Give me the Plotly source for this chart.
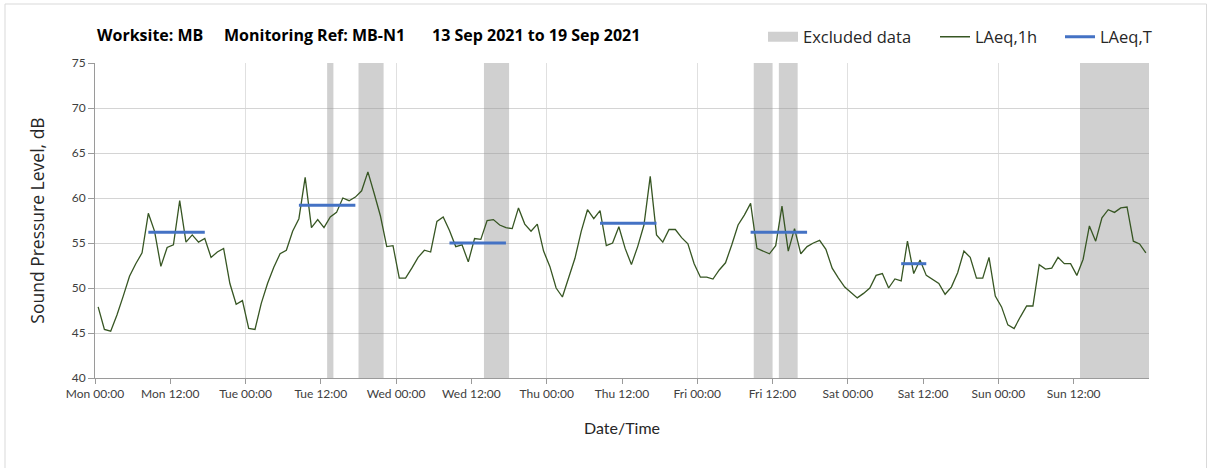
import pandas as pd
import plotly.graph_objects as go

# ---------------- data ----------------
start_time = "2021-09-13 00:30"
laeq_1h = [
    47.9, 45.4, 45.2, 47.0, 49.1, 51.3, 52.7, 53.9, 58.3, 56.3,
    52.4, 54.5, 54.8, 59.7, 55.1, 55.9, 55.1, 55.5, 53.4, 54.0,
    54.4, 50.5, 48.2, 48.6, 45.5, 45.4, 48.3, 50.5, 52.3, 53.8,
    54.2, 56.3, 57.7, 62.3, 56.7, 57.6, 56.7, 57.9, 58.4, 60.0,
    59.7, 60.1, 60.8, 62.9, 60.5, 58.0, 54.6, 54.7, 51.1, 51.1,
    52.2, 53.4, 54.2, 54.0, 57.4, 57.9, 56.4, 54.6, 54.8, 52.9,
    55.5, 55.4, 57.5, 57.6, 57.0, 56.7, 56.6, 58.9, 57.1, 56.3,
    57.1, 54.1, 52.4, 50.0, 49.0, 51.1, 53.3, 56.3, 58.7, 57.7,
    58.6, 54.7, 55.0, 56.8, 54.4, 52.6, 54.6, 57.0, 62.4, 55.9,
    55.1, 56.5, 56.5, 55.6, 54.9, 52.7, 51.2, 51.2, 51.0, 52.0,
    52.8, 54.8, 57.0, 58.1, 59.4, 54.4, 54.1, 53.8, 54.7, 59.1,
    54.1, 56.6, 53.8, 54.6, 55.0, 55.3, 54.3, 52.2, 51.1, 50.1,
    49.5, 48.9, 49.4, 50.0, 51.4, 51.6, 50.0, 51.0, 50.8, 55.2,
    51.6, 53.1, 51.4, 50.9, 50.5, 49.3, 50.1, 51.7, 54.1, 53.4,
    51.1, 51.1, 53.4, 49.1, 47.9, 45.9, 45.5, 46.8, 48.0, 48.0,
    52.6, 52.1, 52.2, 53.4, 52.7, 52.7, 51.4, 53.2, 56.9, 55.2,
    57.8, 58.7, 58.4, 58.9, 59.0, 55.2, 54.9, 53.9,
]

laeq_t_start = ["2021-09-13 08:30", "2021-09-14 08:30", "2021-09-15 08:30",
                "2021-09-16 08:30", "2021-09-17 08:30", "2021-09-18 08:30"]
laeq_t_end = ["2021-09-13 17:30", "2021-09-14 17:30", "2021-09-15 17:30",
              "2021-09-16 17:30", "2021-09-17 17:30", "2021-09-18 12:30"]
laeq_t_value = [56.2, 59.2, 55.0, 57.2, 56.2, 52.7]

excluded_start = ["2021-09-14 13:00", "2021-09-14 18:00", "2021-09-15 14:00",
                  "2021-09-17 09:00", "2021-09-17 13:00", "2021-09-19 13:00"]
excluded_end = ["2021-09-14 14:00", "2021-09-14 22:00", "2021-09-15 18:00",
                "2021-09-17 12:00", "2021-09-17 16:00", "2021-09-20 00:00"]
y_min, y_max = 40, 75

tick_times = pd.date_range("2021-09-13 00:00", periods=14, freq="12h")
tick_labels = ["Mon 00:00", "Mon 12:00", "Tue 00:00", "Tue 12:00",
               "Wed 00:00", "Wed 12:00", "Thu 00:00", "Thu 12:00",
               "Fri 00:00", "Fri 12:00", "Sat 00:00", "Sat 12:00",
               "Sun 00:00", "Sun 12:00"]

title_parts = ["Worksite: MB", "Monitoring Ref: MB-N1", "13 Sep 2021 to 19 Sep 2021"]

# ---------------- figure ----------------
FONT = "Lato"
FONT_W = "Open Sans"
times = pd.date_range(start_time, periods=len(laeq_1h), freq="h")

ex_s = pd.to_datetime(excluded_start)
ex_e = pd.to_datetime(excluded_end)
ex_center = ex_s + (ex_e - ex_s) / 2
ex_width = [(e - s).total_seconds() * 1000 for s, e in zip(ex_s, ex_e)]

fig = go.Figure()

fig.add_trace(go.Bar(
    x=ex_center, y=[y_max - y_min] * len(ex_center), base=[y_min] * len(ex_center),
    width=ex_width, marker=dict(color="rgba(150,150,150,0.45)", line=dict(width=0)),
    showlegend=False, hoverinfo="skip", name="Excluded data",
))
# legend entry for excluded data
fig.add_trace(go.Scatter(
    x=[None], y=[None], mode="lines", name="Excluded data",
    line=dict(color="#d0d0d0", width=11), legendwidth=127,
))
fig.add_trace(go.Scatter(
    x=times, y=laeq_1h, mode="lines", name="LAeq,1h",
    line=dict(color="#375623", width=1.3), legendwidth=80,
))
tx, ty = [], []
for s, e, v in zip(laeq_t_start, laeq_t_end, laeq_t_value):
    tx += [pd.Timestamp(s), pd.Timestamp(e), None]
    ty += [v, v, None]
fig.add_trace(go.Scatter(
    x=tx, y=ty, mode="lines", name="LAeq,T",
    line=dict(color="#4472C4", width=3),
))

axis_col = "#9a9a9a"
fig.update_xaxes(
    type="date", range=["2021-09-13 00:00", "2021-09-20 00:00"],
    tickvals=tick_times, ticktext=tick_labels,
    ticks="outside", ticklen=5, tickcolor=axis_col, tickwidth=1,
    showline=True, linecolor=axis_col, linewidth=1,
    showgrid=False, zeroline=False,
    minor=dict(dtick=86400000, tick0="2021-09-13", showgrid=True,
               gridcolor="#e0e0e0", gridwidth=1, ticklen=0),
    tickfont=dict(family=FONT, size=12, color="#404040"),
    title=dict(text="Date/Time", font=dict(family=FONT, size=16, color="#262626"),
               standoff=22),
)
fig.update_yaxes(
    range=[y_min, y_max], dtick=5, tick0=40,
    ticks="outside", ticklen=6, tickcolor=axis_col,
    showline=True, linecolor=axis_col, linewidth=1,
    showgrid=True, gridcolor="#d4d4d4", gridwidth=1, zeroline=False,
    tickfont=dict(family=FONT, size=12, color="#404040"),
    title=dict(text="Sound Pressure Level, dB",
               font=dict(family=FONT_W, size=17.5, color="#262626"), standoff=22),
)

L, R, T, B = 95, 59, 63, 90
W, H = 1208, 468
pw, ph = W - L - R, H - T - B


def px_x(p):
    return (p - L) / pw


def px_y(p):
    return (H - B - p) / ph


title_px = [95, 222, 430]
for txt, p in zip(title_parts, title_px):
    fig.add_annotation(text="<b>%s</b>" % txt, xref="paper", yref="paper",
                       x=px_x(p), y=px_y(35), xanchor="left", yanchor="middle",
                       showarrow=False, font=dict(family=FONT_W, size=16, color="#000000"))

# outer chart border
fig.add_shape(type="rect", xref="paper", yref="paper",
              x0=px_x(5), x1=px_x(1206.5), y0=px_y(4), y1=px_y(480),
              line=dict(color="#d9d9d9", width=1), fillcolor="rgba(0,0,0,0)", layer="below")

fig.update_layout(
    width=W, height=H,
    margin=dict(l=L, r=R, t=T, b=B, pad=0),
    paper_bgcolor="white", plot_bgcolor="white",
    font=dict(family=FONT, size=12, color="#262626"),
    legend=dict(orientation="h", x=px_x(763), y=px_y(37), xanchor="left", yanchor="middle",
                font=dict(family=FONT_W, size=16.5, color="#262626"),
                bgcolor="rgba(0,0,0,0)", traceorder="normal", itemwidth=30),
    barmode="overlay",
    showlegend=True,
)

fig.write_html("out.html", include_plotlyjs=True, config={"displayModeBar": False},
               post_script="document.body.style.margin='0';document.body.style.overflow='hidden';")
